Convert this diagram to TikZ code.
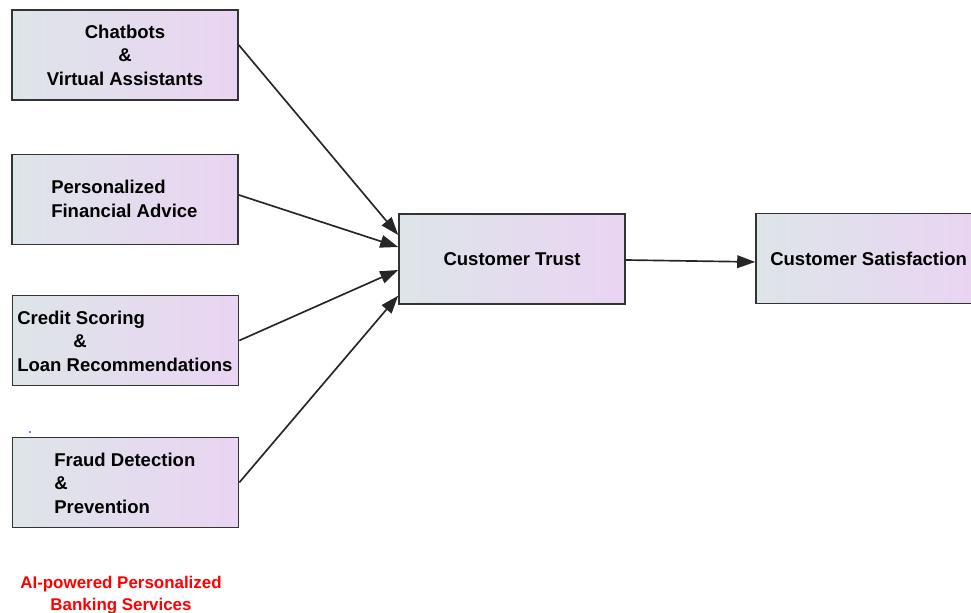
\documentclass[tikz,border=0pt]{standalone}
\usepackage{fontspec}
\setmainfont{Liberation Sans}
\usetikzlibrary{arrows.meta}
\definecolor{boxleft}{HTML}{DDE5E8}
\definecolor{boxright}{HTML}{EAD4F3}
\definecolor{boxline}{HTML}{333333}
\tikzset{
  card/.style={draw=boxline, line width=1.2pt, left color=boxleft, right color=boxright,
    shading angle=90, minimum width=169.5pt, minimum height=67.5pt, inner sep=0pt},
  lbl/.style={font=\fontsize{13.9}{17.6}\selectfont\bfseries, inner sep=0pt},
  flow/.style={draw=black!85, line width=1.25pt, -{Triangle[length=13.5pt,width=9.5pt]}},
}
\begin{document}
\begin{tikzpicture}[x=0.75pt,y=-0.75pt]
\useasboundingbox (0,0) rectangle (971,613);
\begin{scope}
\clip (0,0) rectangle (971,613);
% source boxes
\node[card] (chat)  at (125,55) {};
\node[card] (advice) at (125,199.5) {};
\node[card] (credit) at (125.5,340.5) {};
\node[card] (fraud) at (125.5,482.5) {};
% target boxes
\node[card] (trust) at (512,259) {};
\node[card] (satis) at (869,258.5) {};
\end{scope}
% labels
\node[lbl, align=center] (tchat) at (chat.center) {Chatbots\\\&\\Virtual Assistants};
\node[lbl, align=left, anchor=west] (tadvice) at (51,199) {Personalized\\Financial Advice};
\node[lbl, align=left, anchor=west] (tcredit) at (17,341) {Credit Scoring\\\hspace*{42pt}\&\\Loan Recommendations};
\node[lbl, align=left, anchor=west] (tfraud) at (54,483) {Fraud Detection\\\&\\Prevention};
\node[lbl] (ttrust) at (trust.center) {Customer Trust};
\node[lbl, anchor=west] (tsatis) at (770,258.5) {Customer Satisfaction};
% connectors
\draw[flow] ([yshift=7.5pt]chat.east) -- ([yshift=18pt]trust.west);
\draw[flow] ([yshift=3.4pt]advice.east) -- ([yshift=9pt]trust.west);
\draw[flow] (credit.east) -- ([yshift=-8.25pt]trust.west);
\draw[flow] (fraud.east) -- ([yshift=-27.5pt]trust.west);
\draw[flow] ([yshift=-0.75pt]trust.east) -- ([yshift=-2.6pt]satis.west);
% stray marker
\fill[blue] (30,432) circle (0.9);
% caption
\node[font=\fontsize{12.7}{16.5}\selectfont\bfseries, text=red, align=center, inner sep=0pt] (caption) at (121,595) {AI-powered Personalized\\Banking Services};
\end{tikzpicture}
\end{document}
